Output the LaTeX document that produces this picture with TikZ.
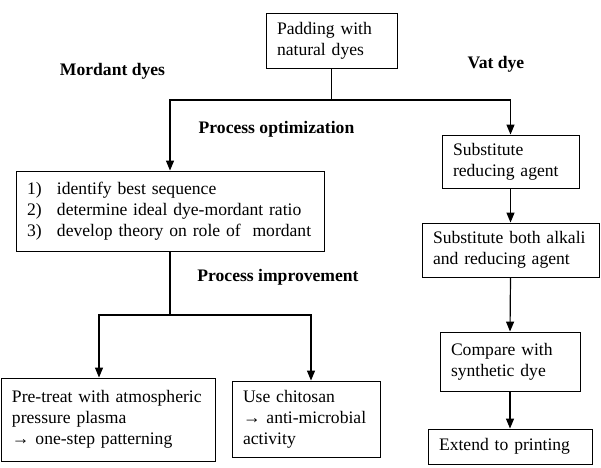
\documentclass[tikz,border=0pt]{standalone}
\usepackage{fontspec}
\setmainfont{Liberation Serif}
\usetikzlibrary{arrows.meta,positioning}
\newcommand{\rows}[1]{\begin{tabular}{@{}l@{}}#1\end{tabular}}

\begin{document}
\begin{tikzpicture}[x=1pt,y=-1pt,
  txt/.style={font=\fontsize{17.6}{21}\selectfont},
  box/.style={draw,line width=0.9pt,txt,align=left,inner xsep=11pt,inner ysep=0pt},
  head/.style={txt,font=\fontsize{17.6}{21}\selectfont\bfseries},
  link/.style={line width=1.2pt},
  arr/.style={link,-{Triangle[length=10pt,width=8pt]}}]
  \useasboundingbox (0,0) rectangle (601,467);
  % Start
  \node[box,text width=109pt,minimum height=55pt] (pad) at (331.5,40.5) {\rows{Padding with\\natural dyes}};
  \coordinate (fork) at (331.5,100);
  % Headings
  \node[head] (mordant) at (112.5,71) {Mordant dyes};
  \node[head] (vat) at (496,64) {Vat dye};
  \node[head] (optim) at (276.5,129) {Process optimization};
  \node[head] (improve) at (278,277) {Process improvement};
  % Mordant dyes branch
  \node[box,text width=286pt,minimum height=80pt] (steps) at (170,211)
    {\rows{\makebox[30pt][l]{1)}identify best sequence\\
     \makebox[30pt][l]{2)}determine ideal dye-mordant ratio\\
     \makebox[30pt][l]{3)}develop theory on role of\ \ mordant}};
  \coordinate (fork2) at (170,315);
  \node[box,text width=192pt,minimum height=83pt] (plasma) at (108,419.5)
    {\rows{Pre-treat with atmospheric\\pressure plasma\\→ one-step patterning}};
  \node[box,text width=126pt,minimum height=76pt] (chitosan) at (306,419)
    {\rows{Use chitosan\\→ anti-microbial\\activity}};
  % Vat dye branch
  \node[box,text width=115pt,minimum height=53pt] (subred) at (510.5,161.5) {\rows{Substitute\\reducing agent}};
  \node[box,text width=155pt,minimum height=54pt] (suball) at (510.5,250) {\rows{Substitute both alkali\\and reducing agent}};
  \node[box,text width=118pt,minimum height=59pt] (compare) at (510,361.5) {\rows{Compare with\\synthetic dye}};
  \node[box,text width=142pt,minimum height=35pt] (extend) at (510,446.5) {Extend to printing};
  % Connectors
  \draw[link] (pad.south) -- (fork);
  \draw[arr] (fork) -| (steps.north);
  \draw[arr] (fork) -| (subred.north);
  \draw[link] (steps.south) -- (fork2);
  \draw[arr] (fork2) -| ([xshift=-9pt]plasma.north);
  \draw[arr] (fork2) -| ([xshift=5pt]chitosan.north);
  \draw[arr] (subred.south) -- (suball.north);
  \draw[arr] (suball.south) -- (compare.north);
  \draw[arr] (compare.south) -- (extend.north);
\end{tikzpicture}
\end{document}
